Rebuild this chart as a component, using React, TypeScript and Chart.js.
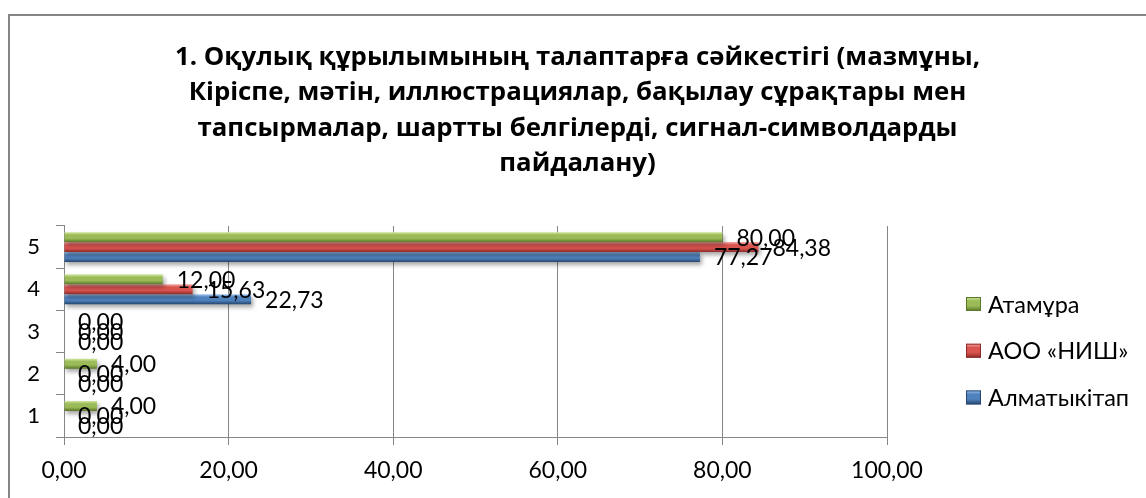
import React, { useEffect, useRef } from 'react';
import { Chart, registerables } from 'chart.js';

Chart.register(...registerables);

// ---- data ----
const categories = ['5', '4', '3', '2', '1'];
const seriesNames = ['Атамұра', 'АОО «НИШ»', 'Алматыкітап'];
const atamuraValues = [80.0, 12.0, 0.0, 4.0, 4.0];
const nishValues = [84.38, 15.63, 0.0, 0.0, 0.0];
const almatykitapValues = [77.27, 22.73, 0.0, 0.0, 0.0];
const xTickMin = 0;
const xTickMax = 100;
const xTickStep = 20;
const titleLines = [
  '1. Оқулық құрылымының талаптарға сәйкестігі (мазмұны,',
  'Кіріспе, мәтін, иллюстрациялар, бақылау сұрақтары мен',
  'тапсырмалар, шартты белгілерді, сигнал-символдарды',
  'пайдалану)',
];

// ---- styles ----
const palettes = [
  { light: '#d3e8a0', mid: '#9bbb59', dark: '#5a7626' },
  { light: '#f6aaa8', mid: '#d9534f', dark: '#8a2a28' },
  { light: '#a3c8f0', mid: '#4f81bd', dark: '#24466f' },
];
const FONT = 'Lato';
const TITLE_FONT = 'Open Sans';
const GRID = '#868686';

const fmt = (v: number) => Number(v).toFixed(2).replace('.', ',');

function makeGrad(ctx: CanvasRenderingContext2D, top: number, bottom: number, p: any) {
  const g = ctx.createLinearGradient(0, top, 0, bottom);
  g.addColorStop(0, p.light);
  g.addColorStop(0.28, p.mid);
  g.addColorStop(0.62, p.mid);
  g.addColorStop(1, p.dark);
  return g;
}

const framePlugin = {
  id: 'frame',
  beforeDraw(chart: any) {
    const { ctx, width, height } = chart;
    ctx.save();
    ctx.fillStyle = '#ffffff';
    ctx.fillRect(0, 0, width, height);
    ctx.strokeStyle = GRID;
    ctx.lineWidth = 2;
    ctx.strokeRect(9, 15, width + 40, height + 40);
    ctx.restore();
  },
};

const barStylePlugin = {
  id: 'barStyle',
  beforeDatasetsDraw(chart: any) {
    const ctx = chart.ctx;
    chart.data.datasets.forEach((ds: any, i: number) => {
      const meta = chart.getDatasetMeta(i);
      meta.data.forEach((el: any) => {
        const h = el.height;
        const top = el.y - h / 2;
        el.options = Object.assign({}, el.options, {
          backgroundColor: makeGrad(ctx, top, top + h, palettes[i]),
        });
      });
    });
    ctx.save();
    ctx.shadowColor = 'rgba(0,0,0,0.35)';
    ctx.shadowBlur = 4;
    ctx.shadowOffsetX = 2;
    ctx.shadowOffsetY = 3;
  },
  afterDatasetsDraw(chart: any) {
    const ctx = chart.ctx;
    ctx.restore();
    ctx.save();
    ctx.fillStyle = '#000';
    ctx.font = `23px ${FONT}`;
    ctx.textAlign = 'left';
    ctx.textBaseline = 'middle';
    chart.data.datasets.forEach((ds: any, i: number) => {
      const meta = chart.getDatasetMeta(i);
      meta.data.forEach((el: any, j: number) => {
        ctx.fillText(fmt(ds.data[j]), el.x + 14, el.y + 1);
      });
    });
    ctx.restore();
  },
};

const legendPlugin = {
  id: 'sideLegend',
  afterDraw(chart: any) {
    const ctx = chart.ctx;
    const x0 = 966;
    const y0 = 304;
    const step = 46.7;
    ctx.save();
    ctx.font = `23.5px ${FONT}`;
    ctx.textBaseline = 'middle';
    ctx.textAlign = 'left';
    chart.data.datasets.forEach((ds: any, i: number) => {
      const cy = y0 + i * step;
      const p = palettes[i];
      const g = makeGrad(ctx, cy - 7, cy + 7, p);
      ctx.fillStyle = g;
      ctx.fillRect(x0, cy - 7, 15, 14);
      ctx.strokeStyle = p.dark;
      ctx.lineWidth = 1;
      ctx.strokeRect(x0 + 0.5, cy - 6.5, 14, 13);
      ctx.fillStyle = '#000';
      ctx.fillText(ds.label, x0 + 22, cy + 1);
    });
    ctx.restore();
  },
};

export default function App() {
  const ref = useRef<HTMLCanvasElement | null>(null);

  useEffect(() => {
    if (!ref.current) return;
    const values = [atamuraValues, nishValues, almatykitapValues];
    const chart = new Chart(ref.current, {
      type: 'bar',
      data: {
        labels: categories,
        datasets: seriesNames.map((name, i) => ({
          label: name,
          data: values[i],
          backgroundColor: palettes[i].mid,
          borderWidth: 0,
          barPercentage: 1,
          categoryPercentage: 0.707,
        })),
      },
      options: {
        indexAxis: 'y',
        responsive: false,
        animation: false,
        devicePixelRatio: 1,
        layout: { padding: { left: 9, right: 0, top: 0, bottom: 0 } },
        plugins: {
          legend: { display: false },
          tooltip: { enabled: false },
          title: {
            display: true,
            text: titleLines,
            color: '#000',
            font: { family: TITLE_FONT, size: 25.8, weight: 'bold', lineHeight: 1.37 },
            padding: { top: 40, bottom: 44.6 },
          },
        },
        scales: {
          x: {
            type: 'linear',
            min: xTickMin,
            max: xTickMax,
            ticks: {
              stepSize: xTickStep,
              callback: (v: any) => fmt(v),
              color: '#000',
              font: { family: FONT, size: 23 },
              padding: 12,
            },
            grid: { color: GRID, lineWidth: 1, tickLength: 8 },
            border: { color: GRID, width: 1 },
            afterFit: (s: any) => {
              s.height = 61;
            },
          },
          y: {
            type: 'category',
            ticks: { color: '#000', font: { family: FONT, size: 22 }, padding: 16 },
            grid: { drawOnChartArea: false, tickLength: 8, color: GRID, offset: true },
            border: { color: GRID, width: 1 },
            afterFit: (s: any) => {
              s.width = 55;
            },
          },
          y2: {
            type: 'linear',
            position: 'right',
            display: true,
            grid: { display: false },
            border: { display: false },
            ticks: { display: false },
            afterFit: (s: any) => {
              s.width = 259;
            },
          },
        },
      } as any,
      plugins: [framePlugin, barStylePlugin, legendPlugin],
    });
    return () => chart.destroy();
  }, []);

  return (
    <div style={{ position: 'fixed', left: 0, top: 0, width: 1146, height: 498, background: '#fff', overflow: 'hidden' }}>
      <canvas ref={ref} width={1146} height={498} style={{ width: 1146, height: 498, display: 'block' }} />
    </div>
  );
}
